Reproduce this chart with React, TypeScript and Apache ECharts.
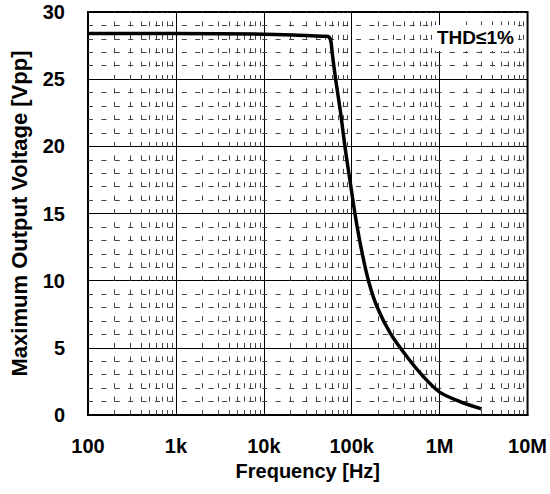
import React, { useEffect, useRef } from "react";
import * as echarts from "echarts";

const frequencies = [100, 1000, 10000, 30000, 50000, 55000, 58000, 60100, 65600, 74700, 83600, 95300, 110000, 130000, 155000, 194000, 275000, 425000, 655000, 1000000, 1700000, 3000000];
const voltages = [28.4, 28.4, 28.35, 28.25, 28.2, 28.15, 27.8, 26.9, 25.0, 22.5, 20.0, 17.5, 14.8, 12.2, 10.0, 8.06, 6.08, 4.34, 2.85, 1.7, 1.0, 0.45];
const xTickLabels: Record<number, string> = { 100: "100", 1000: "1k", 10000: "10k", 100000: "100k", 1000000: "1M", 10000000: "10M" };
const decades = [100, 1000, 10000, 100000, 1000000];
const minorMultipliers = [2, 3, 4, 5, 6, 7, 8, 9];
const minorYValues = [1, 2, 3, 4, 6, 7, 8, 9, 11, 12, 13, 14, 16, 17, 18, 19, 21, 22, 23, 24, 26, 27, 28, 29];
const annotation = "THD≤1%";

const FONT = "'Liberation Sans', Arial, sans-serif";

export default function App() {
  const ref = useRef<HTMLDivElement>(null);
  useEffect(() => {
    if (!ref.current) return;
    const chart = echarts.init(ref.current, null, { renderer: "svg" });
    const minorX: number[] = [];
    decades.forEach((d) => minorMultipliers.forEach((m) => minorX.push(d * m)));
    chart.setOption({
      animation: false,
      backgroundColor: "#fff",
      grid: { left: 86, top: 12, right: 22, bottom: 79, show: true, borderColor: "#000", borderWidth: 2, backgroundColor: "transparent" },
      xAxis: {
        type: "log",
        logBase: 10,
        min: 100,
        max: 10000000,
        name: "Frequency [Hz]",
        nameLocation: "middle",
        nameGap: 40,
        nameTextStyle: { fontFamily: FONT, fontWeight: "bold", fontSize: 20, color: "#000" },
        axisLine: { lineStyle: { color: "#000", width: 2 } },
        axisTick: { show: false },
        axisLabel: {
          margin: 21,
          fontFamily: FONT,
          fontWeight: "bold",
          fontSize: 20,
          color: "#000",
          formatter: (v: number) => xTickLabels[Math.round(v)] ?? "",
        },
        splitLine: { show: true, lineStyle: { color: "#000", width: 1 } },
      },
      yAxis: {
        type: "value",
        min: 0,
        max: 30,
        interval: 5,
        name: "Maximum Output Voltage [Vpp]",
        nameLocation: "middle",
        nameGap: 58,
        nameTextStyle: { fontFamily: FONT, fontWeight: "bold", fontSize: 22, color: "#000" },
        axisLine: { lineStyle: { color: "#000", width: 2 } },
        axisTick: { show: false },
        axisLabel: { margin: 23, fontFamily: FONT, fontWeight: "bold", fontSize: 20, color: "#000" },
        splitLine: { show: true, lineStyle: { color: "#000", width: 1 } },
      },
      series: [
        {
          type: "line",
          data: [],
          z: 1,
          silent: true,
          markLine: {
            silent: true,
            symbol: "none",
            label: { show: false },
            lineStyle: { type: [5, 8.4], color: "#444", width: 1 },
            data: [...minorX.map((v) => ({ xAxis: v })), ...minorYValues.map((v) => ({ yAxis: v }))],
          },
        },
        {
          type: "line",
          z: 5,
          data: frequencies.map((f, i) => [f, voltages[i]]),
          showSymbol: false,
          smooth: 0.3,
          lineStyle: { color: "#000", width: 3.5 },
        },
      ],
      graphic: [
        {
          type: "text",
          left: 433,
          top: 25,
          z: 10,
          style: {
            text: annotation,
            fontFamily: FONT,
            fontWeight: "bold",
            fontSize: 19,
            fill: "#000",
            backgroundColor: "#fff",
            padding: [3, 4, 4, 4],
          },
        },
      ],
    });
    return () => chart.dispose();
  }, []);
  return <div ref={ref} style={{ position: "absolute", left: 0, top: 0, width: 550, height: 494 }} />;
}
